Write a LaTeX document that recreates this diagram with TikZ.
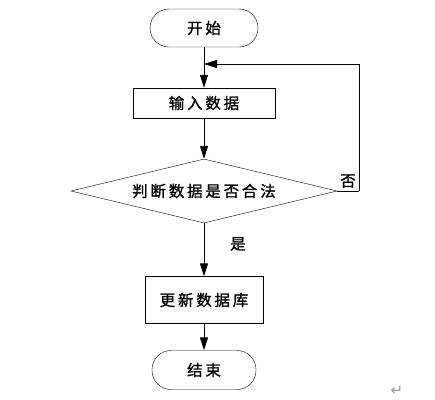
\documentclass[tikz,border=0pt]{standalone}
\usepackage{fontspec}
\usepackage{tikz}
\usetikzlibrary{positioning, arrows.meta, shapes.geometric}
\newfontfamily\cjk[LetterSpace=18, FakeBold=1.2]{Noto Sans CJK SC}
\newfontfamily\symfont{DejaVu Sans}
\definecolor{flow-line}{HTML}{000000}
\definecolor{flow-mark}{HTML}{9A9A9A}

\begin{document}
\begin{tikzpicture}[
    x=1pt, y=-1pt,
    term/.style={draw=flow-line, minimum width=108pt, minimum height=38pt,
                 rounded corners=19pt, font=\cjk\fontsize{15.5}{15.5}\selectfont},
    procbox/.style={draw=flow-line, minimum height=30pt, inner sep=0pt,
                    font=\cjk\fontsize{15.5}{15.5}\selectfont},
    judge/.style={draw=flow-line, diamond, aspect=4.16, inner sep=0pt,
                  minimum width=266pt, minimum height=64pt,
                  font=\cjk\fontsize{15.5}{15.5}\selectfont},
    lbl/.style={font=\cjk\fontsize{15.5}{15.5}\selectfont, inner sep=0pt},
    arr/.style={draw=flow-line, line width=0.9pt,
                -{Triangle[length=13pt, width=8pt]}},
    ln/.style={draw=flow-line, line width=0.9pt},
]
    \useasboundingbox (0,0) rectangle (435,399);

    \node[term] (start) at (204,28) {开始};
    \node[procbox, minimum width=142pt] (input) at (204,103) {输入数据};
    \node[judge] (check) at (204,191) {判断数据是否合法};
    \node[procbox, minimum width=118pt, minimum height=47pt] (update) at (204,300) {更新数据库};
    \node[term, minimum width=104pt, minimum height=39pt] (stop) at (204,370) {结束};

    \coordinate (merge) at (204,64);
    \coordinate (corner) at (359,191);

    \draw[arr] (start) -- (input);
    \draw[arr] (input) -- (check);
    \draw[arr] (check) -- (update);
    \draw[arr] (update) -- (stop);
    \draw[ln] (check.east) -- (corner);
    \draw[arr] (corner) |- (merge);

    \node[lbl] (no) at (348,181) {否};
    \node[lbl] (yes) at (238,244) {是};
    \node[font=\symfont\fontsize{15}{15}\selectfont, text=flow-mark] (ret) at (397,391) {↵};
\end{tikzpicture}
\end{document}
